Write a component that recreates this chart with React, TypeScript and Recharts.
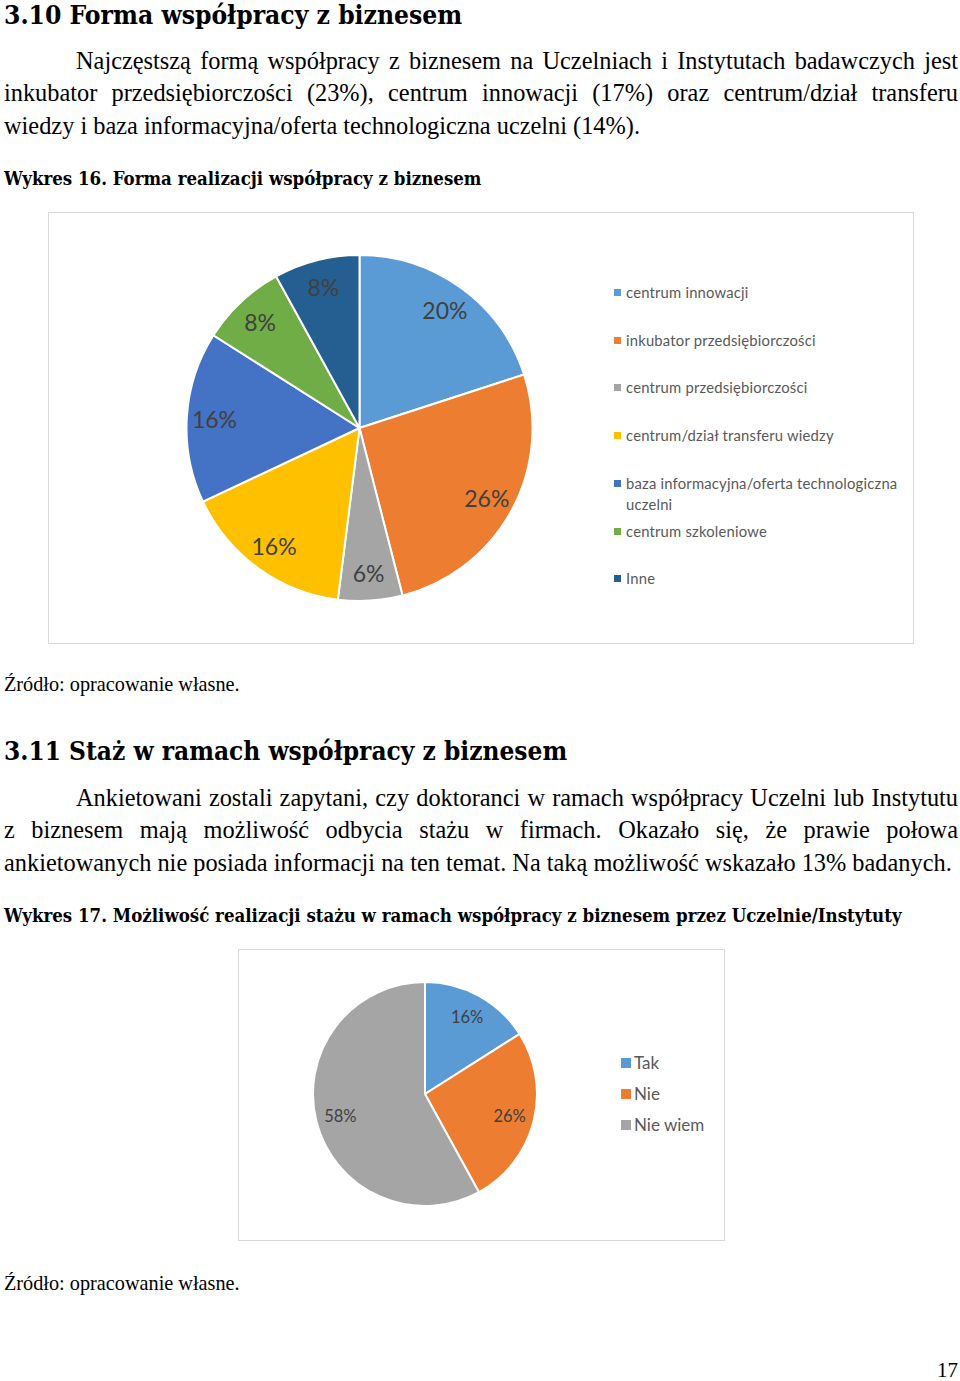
import React from 'react';
import { PieChart, Pie, Cell, Legend } from 'recharts';

// Wykres 16 – forma realizacji współpracy z biznesem
const formNames = [
  'centrum innowacji',
  'inkubator przedsiębiorczości',
  'centrum przedsiębiorczości',
  'centrum/dział transferu wiedzy',
  'baza informacyjna/oferta technologiczna uczelni',
  'centrum szkoleniowe',
  'Inne',
];
const formShares = [20, 26, 6, 16, 16, 8, 8];
const formColors = ['#5b9bd5', '#ed7d31', '#a5a5a5', '#ffc000', '#4472c4', '#70ad47', '#255e91'];

// Wykres 17 – możliwość odbycia stażu
const stazNames = ['Tak', 'Nie', 'Nie wiem'];
const stazShares = [16, 26, 58];
const stazColors = ['#5b9bd5', '#ed7d31', '#a5a5a5'];

const formData = formNames.map((name, i) => ({ name, value: formShares[i] }));
const stazData = stazNames.map((name, i) => ({ name, value: stazShares[i] }));

const SERIF = '"Liberation Serif", "Times New Roman", serif';
const HEAD = '"DejaVu Serif Condensed", "DejaVu Serif", serif';
const SANS = 'Lato, "Noto Sans", sans-serif';
const RADIAN = Math.PI / 180;

const makeLabel = (ratio: number, fontSize: number) => (props: any) => {
  const { cx, cy, midAngle, outerRadius, value } = props;
  const r = outerRadius * ratio;
  const x = cx + r * Math.cos(-midAngle * RADIAN);
  const y = cy + r * Math.sin(-midAngle * RADIAN);
  return (
    <text x={x} y={y} fill="#404040" fontSize={fontSize} fontFamily={SANS}
      textAnchor="middle" dominantBaseline="central">
      {value}%
    </text>
  );
};

// text line placed by its baseline
const Line = ({ base, fs, font = SERIF, bold = false, indent = 0, justify = false, left = 4, width = 954, children, stretch }: any) => (
  <div style={{
    position: 'absolute', left, top: base - 0.84 * fs, width, paddingLeft: indent, boxSizing: 'border-box',
    fontFamily: font, fontSize: fs, lineHeight: `${fs}px`, fontWeight: bold ? 700 : 400,
    fontStretch: stretch, color: '#000',
    textAlign: justify ? 'justify' : 'left', textAlignLast: justify ? 'justify' : 'left',
    whiteSpace: justify ? 'normal' : 'nowrap',
  }}>{children}</div>
);

const FormLegend = () => (
  <div style={{ position: 'relative', width: 300, height: 400 }}>
    {formNames.map((n, i) => (
      <div key={n} style={{ position: 'absolute', left: 0, top: 80 + i * 47.7 - 10, display: 'flex', alignItems: 'flex-start' }}>
        <span style={{ width: 7, height: 7, background: formColors[i], marginTop: 7, marginRight: 5, flex: 'none' }} />
        <span style={{ width: 290, fontFamily: SANS, fontSize: 14.8, lineHeight: '21px', color: '#595959', letterSpacing: 0.2 }}>{n}</span>
      </div>
    ))}
  </div>
);

const StazLegend = () => (
  <div style={{ position: 'relative', width: 120, height: 120 }}>
    {stazNames.map((n, i) => (
      <div key={n} style={{ position: 'absolute', left: 0, top: 114 + i * 31 - 11, display: 'flex', alignItems: 'center', height: 22 }}>
        <span style={{ width: 10, height: 10, background: stazColors[i], marginRight: 3, flex: 'none' }} />
        <span style={{ fontFamily: SANS, fontSize: 17, lineHeight: '22px', color: '#595959', whiteSpace: 'nowrap' }}>{n}</span>
      </div>
    ))}
  </div>
);

export default function App() {
  return (
    <div style={{ position: 'absolute', left: 0, top: 0, width: 960, height: 1381, background: '#fff', overflow: 'hidden' }}>
      <Line base={24} fs={26.2} font={HEAD} bold stretch="condensed">3.10 Forma współpracy z biznesem</Line>
      <Line base={69} fs={24.35} indent={72} justify>Najczęstszą formą współpracy z biznesem na Uczelniach i Instytutach badawczych jest</Line>
      <Line base={101.5} fs={24.35} justify>inkubator przedsiębiorczości (23%), centrum innowacji (17%) oraz centrum/dział transferu</Line>
      <Line base={134} fs={24.35}>wiedzy i baza informacyjna/oferta technologiczna uczelni (14%).</Line>
      <Line base={186} fs={18.5} font={HEAD} bold stretch="condensed">Wykres 16. Forma realizacji współpracy z biznesem</Line>

      <div style={{ position: 'absolute', left: 48, top: 212, width: 866, height: 432, border: '1px solid #d9d9d9', boxSizing: 'border-box' }}>
        <PieChart width={864} height={430} margin={{ top: 0, right: 0, bottom: 0, left: 0 }}>
          <Pie data={formData} dataKey="value" nameKey="name" cx={310.5} cy={215} outerRadius={173}
            startAngle={90} endAngle={-270} stroke="#fff" strokeWidth={2}
            label={makeLabel(0.84, 23)} labelLine={false} isAnimationActive={false}>
            {formData.map((d, i) => <Cell key={d.name} fill={formColors[i]} />)}
          </Pie>
          <Legend layout="vertical" align="right" verticalAlign="top" content={() => <FormLegend />}
            wrapperStyle={{ left: 565, top: -1, width: 300 }} />
        </PieChart>
      </div>

      <Line base={691} fs={20.25}>Źródło: opracowanie własne.</Line>
      <Line base={760} fs={26} font={HEAD} bold stretch="condensed">3.11 Staż w ramach współpracy z biznesem</Line>
      <Line base={806} fs={24.35} indent={72} justify>Ankietowani zostali zapytani, czy doktoranci w ramach współpracy Uczelni lub Instytutu</Line>
      <Line base={838.5} fs={24.35} justify>z biznesem mają możliwość odbycia stażu w firmach. Okazało się, że prawie połowa</Line>
      <Line base={871} fs={24.35}>ankietowanych nie posiada informacji na ten temat. Na taką możliwość wskazało 13% badanych.</Line>
      <Line base={923} fs={18.5} font={HEAD} bold stretch="condensed">Wykres 17. Możliwość realizacji stażu w ramach współpracy z biznesem przez Uczelnie/Instytuty</Line>

      <div style={{ position: 'absolute', left: 238, top: 949, width: 487, height: 292, border: '1px solid #d9d9d9', boxSizing: 'border-box' }}>
        <PieChart width={485} height={290} margin={{ top: 0, right: 0, bottom: 0, left: 0 }}>
          <Pie data={stazData} dataKey="value" nameKey="name" cx={186} cy={144} outerRadius={112}
            startAngle={90} endAngle={-270} stroke="#fff" strokeWidth={2}
            label={makeLabel(0.78, 16.5)} labelLine={false} isAnimationActive={false}>
            {stazData.map((d, i) => <Cell key={d.name} fill={stazColors[i]} />)}
          </Pie>
          <Legend layout="vertical" align="right" verticalAlign="top" content={() => <StazLegend />}
            wrapperStyle={{ left: 382, top: -1, width: 120 }} />
        </PieChart>
      </div>

      <Line base={1290} fs={20.25}>Źródło: opracowanie własne.</Line>
      <Line base={1378} fs={21} left={937} width={23}>17</Line>
    </div>
  );
}
